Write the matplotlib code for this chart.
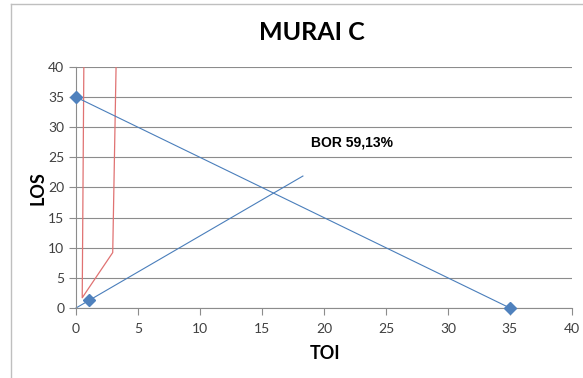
import matplotlib
matplotlib.use("Agg")
import matplotlib.pyplot as plt
from matplotlib.lines import Line2D

# Barber-Johnson style graph: LOS against TOI
los_line_x = [0, 35]
los_line_y = [35, 0]

bor_line_x = [0, 18.3]
bor_line_y = [0, 21.9]
bor_point_x = [1.06]
bor_point_y = [1.36]

red_x = [0.63, 0.5, 2.96, 3.23]
red_y = [40, 1.7, 9.2, 40]

bor_label = "BOR 59,13%"
xticks = [0, 5, 10, 15, 20, 25, 30, 35, 40]
yticks = [0, 5, 10, 15, 20, 25, 30, 35, 40]

blue = "#4a7ebb"
mark = "#4f81bd"
grid = "#8c8c8c"
txt = "#404040"
font = ["Lato", "DejaVu Sans"]

fig = plt.figure(figsize=(5.83, 3.78), dpi=100)
ax = fig.add_axes([0.1304, 0.1852, 0.981 - 0.1304, 0.8228 - 0.1852])

ax.plot(los_line_x, los_line_y, color=blue, lw=0.8, marker="D", clip_on=False,
        markersize=6.5, markerfacecolor=mark, markeredgecolor=mark, zorder=3)
ax.plot(bor_line_x, bor_line_y, color=blue, lw=0.8, clip_on=False)
ax.plot(bor_point_x, bor_point_y, ls="none", marker="D", markersize=6.5,
        markerfacecolor=mark, markeredgecolor=mark, clip_on=False, zorder=3)
ax.plot(red_x, red_y, color="#e07272", lw=0.9)

ax.text(18.95, 27.4, bor_label, fontsize=10, fontweight="bold",
        family=["Liberation Sans", "DejaVu Sans"], va="center", ha="left")

ax.set_xlim(0, 40)
ax.set_ylim(0, 40)
ax.set_xticks(xticks)
ax.set_yticks(yticks)
ax.yaxis.grid(True, color=grid, lw=0.8)
ax.set_axisbelow(True)
for s in ["top", "right"]:
    ax.spines[s].set_visible(False)
for s in ["left", "bottom"]:
    ax.spines[s].set_color(grid)
    ax.spines[s].set_linewidth(0.8)
ax.tick_params(length=5, width=0.8, color=grid, labelcolor=txt, labelsize=10)
ax.tick_params(axis="x", pad=6)
for lab in ax.get_xticklabels() + ax.get_yticklabels():
    lab.set_family(font)

ax.set_xlabel("TOI", fontsize=13, fontweight="bold", family=font)
ax.set_ylabel("LOS", fontsize=13, fontweight="bold", family=font)
ax.xaxis.set_label_coords(0.5, -0.2)
ax.yaxis.set_label_coords(-0.075, 0.5)
ax.xaxis.label.set_va("center")
ax.yaxis.label.set_va("center")
ax.xaxis.set_label_coords((325 - 76) / 496, -(354 - 308) / 241)
ax.yaxis.set_label_coords(-(76 - 38) / 496, (308 - 188) / 241)

fig.text(312 / 583, 1 - 33 / 378, "MURAI C", fontsize=18, fontweight="bold",
         family=font, ha="center", va="center")

# chart area border (left and top edges)
fig.add_artist(Line2D([11 / 583, 11 / 583], [0, 1 - 3.5 / 378],
                      transform=fig.transFigure, color="#bfbfbf", lw=1))
fig.add_artist(Line2D([11 / 583, 1], [1 - 3.5 / 378, 1 - 3.5 / 378],
                      transform=fig.transFigure, color="#bfbfbf", lw=1))

fig.savefig("out.png", dpi=100)
